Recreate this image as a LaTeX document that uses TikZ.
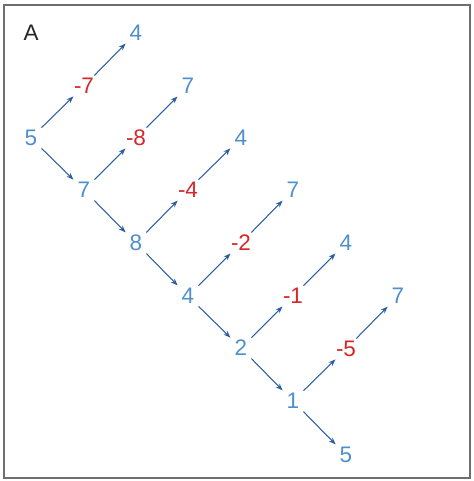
\documentclass[tikz,border=0pt]{standalone}
\usepackage{fontspec}
\setmainfont{Liberation Sans}
\usetikzlibrary{arrows.meta}
\definecolor{valblue}{HTML}{4F8FD0}
\definecolor{diffred}{HTML}{D7262B}
\definecolor{arrblue}{HTML}{2A5FA3}
\definecolor{framegray}{HTML}{6E6E6E}

\begin{document}
\begin{tikzpicture}[x=0.02cm, y=-0.02cm,
  >={Stealth[length=4pt, width=3pt]},
  every node/.style={circle, inner sep=0pt, minimum size=16.5pt, font=\fontsize{12.8}{15}\selectfont},
  val/.style={text=valblue},
  diff/.style={text=diffred},
  link/.style={arrblue, line width=0.6pt, ->}]

\useasboundingbox (0,0) rectangle (474,481);

% Frame
\draw[framegray, line width=0.8pt] (4,5) rectangle (470,478);

% Panel letter
\node[text=black!85] (lblA) at (31,33) {A};

% Main chain
\node[val] (n1) at (31,138) {5};
\node[val] (n2) at (84,190) {7};
\node[val] (n3) at (136,243) {8};
\node[val] (n4) at (188,296) {4};
\node[val] (n5) at (241,348) {2};
\node[val] (n6) at (293,401) {1};
\node[val] (n7) at (346,455) {5};

% Differences
\node[diff] (d1) at (84,86) {-7};
\node[diff] (d2) at (136,138) {-8};
\node[diff] (d3) at (188,190) {-4};
\node[diff] (d4) at (241,243) {-2};
\node[diff] (d5) at (293,296) {-1};
\node[diff] (d6) at (346,349) {-5};

% Branch ends
\node[val] (t1) at (136,33) {4};
\node[val] (t2) at (188,86) {7};
\node[val] (t3) at (241,138) {4};
\node[val] (t4) at (293,190) {7};
\node[val] (t5) at (346,243) {4};
\node[val] (t6) at (398,296) {7};

% Arrows
\foreach \i [evaluate=\i as \j using int(\i+1)] in {1,...,6} {
  \draw[link] (n\i) -- (n\j);
  \draw[link] (n\i) -- (d\i);
  \draw[link] (d\i) -- (t\i);
}

\end{tikzpicture}
\end{document}
